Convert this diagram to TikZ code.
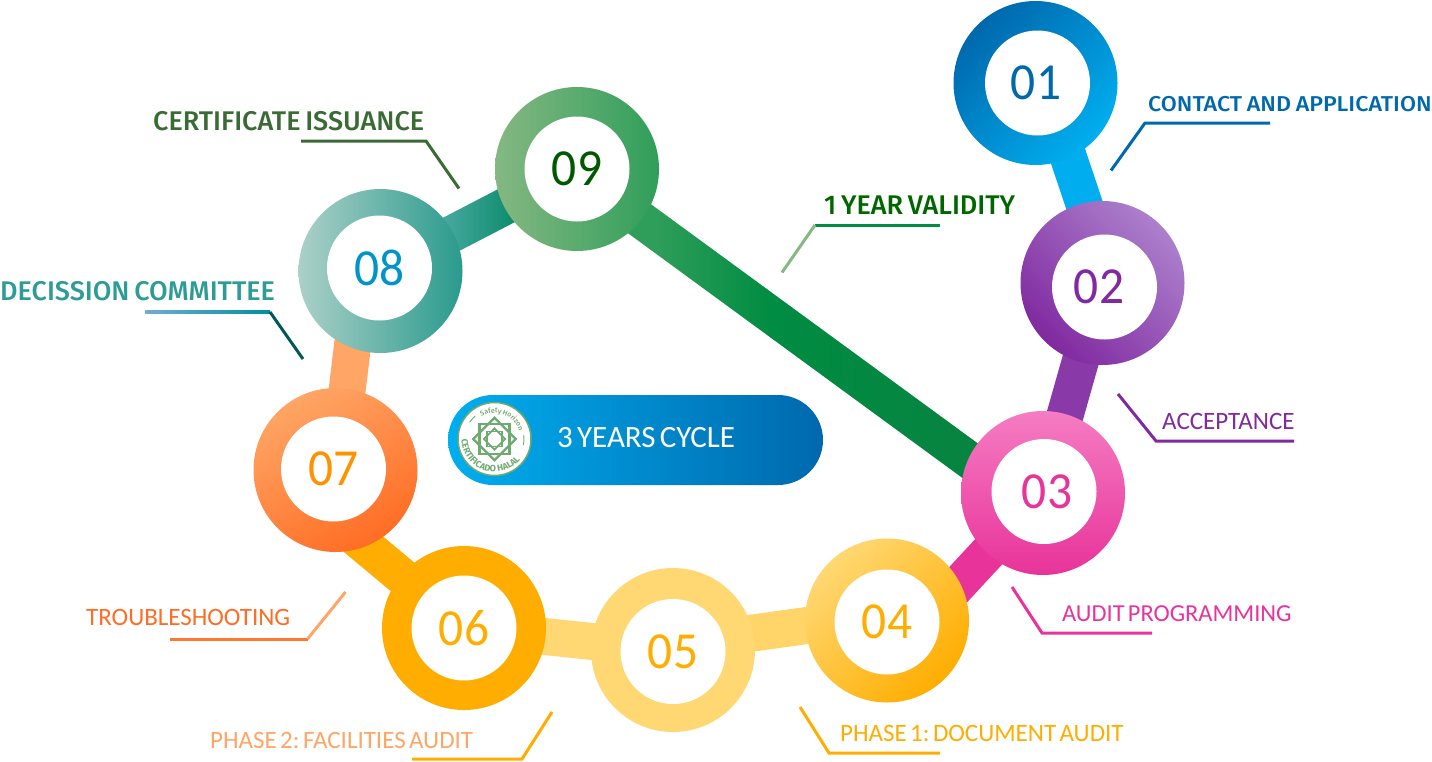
\documentclass[tikz,border=0pt]{standalone}
\usepackage{fontspec}
\setmainfont{Carlito}
\newfontfamily\labfont[WordSpace=0.6]{Carlito}
\newfontfamily\numfont[FakeStretch=0.95]{Carlito}
\newfontfamily\headfont[WordSpace=0.7]{Fira Sans Medium}
\newfontfamily\widefont[FakeStretch=1.08,WordSpace=0.8]{Fira Sans Medium}
\newfontfamily\sealfont{Fira Sans Bold}
\usetikzlibrary{calc}
\usetikzlibrary{backgrounds}
\usetikzlibrary{shapes.misc}
\usetikzlibrary{decorations.text}

\definecolor{blueA}{HTML}{0068AD}
\definecolor{blueB}{HTML}{00AEEF}
\definecolor{purpA}{HTML}{8029A0}
\definecolor{purpB}{HTML}{AC80CC}
\definecolor{pinkA}{HTML}{F57CC2}
\definecolor{pinkB}{HTML}{E8339A}
\definecolor{goldA}{HTML}{FFD873}
\definecolor{goldB}{HTML}{FFAD00}
\definecolor{orngA}{HTML}{FFA565}
\definecolor{orngB}{HTML}{FF6D24}
\definecolor{tealA}{HTML}{ABD0C8}
\definecolor{tealB}{HTML}{2A9A8D}
\definecolor{tealC}{HTML}{2E9C96}
\definecolor{leafA}{HTML}{85B882}
\definecolor{leafB}{HTML}{2F9E5A}
\definecolor{leafC}{HTML}{008C42}
\definecolor{leafD}{HTML}{0A803F}
\definecolor{forest}{HTML}{3A6B35}
\definecolor{halal}{HTML}{6FAA70}

\pgfdeclarehorizontalshading{longbar}{100bp}{color(0bp)=(leafB); color(34bp)=(leafB); color(46bp)=(leafC); color(75bp)=(leafD); color(100bp)=(leafD)}
\pgfdeclarehorizontalshading{shortbar}{100bp}{color(0bp)=(tealC); color(40bp)=(tealC!85!white); color(62bp)=(leafC!50!teal); color(100bp)=(leafC!50!teal)}

% bar between two points, with a shading
\newcommand{\gradlink}[3]{
  \shade[shading=#3]
    ($(#1)!18.5pt!90:(#2)$) -- ($(#1)!18.5pt!-90:(#2)$) -- ($(#2)!18.5pt!90:(#1)$) -- ($(#2)!18.5pt!-90:(#1)$) -- cycle;
}

\begin{document}
\frenchspacing
\begin{tikzpicture}[x=1pt,y=-1pt,
	ring/.style={circle,minimum size=164pt,inner sep=0pt},
	hole/.style={circle,fill=white,minimum size=105pt,inner sep=0pt,font=\numfont\fontsize{52}{52}\selectfont},
	link/.style={line width=37pt},
	leader/.style={line width=3pt},
	lab/.style={anchor=base west,inner sep=0pt,font=\labfont\fontsize{25}{25}\selectfont},
	head/.style={anchor=base west,inner sep=0pt,font=\headfont\fontsize{27}{27}\selectfont},
	star/.style={draw=halal,line width=2.4pt,line join=miter}]
	\useasboundingbox (0,0) rectangle (1432,761);

	% rings
	\node[ring,top color=blueA,bottom color=blueB,shading angle=45] (n01) at (1035.5,83) {};
	\node[ring,top color=purpB,bottom color=purpA,shading angle=-45] (n02) at (1102.5,283) {};
	\node[ring,top color=pinkA,bottom color=pinkB] (n03) at (1043,493) {};
	\node[ring,top color=goldA,bottom color=goldB,shading angle=45] (n04) at (887,620.5) {};
	\node[ring,fill=goldA] (n05) at (673,650) {};
	\node[ring,fill=goldB] (n06) at (464,628) {};
	\node[ring,top color=orngA,bottom color=orngB,shading angle=30] (n07) at (335.5,470) {};
	\node[ring,left color=tealA,right color=tealB] (n08) at (380.5,271) {};
	\node[ring,left color=leafA,right color=leafB] (n09) at (577,169) {};

	\node[hole,text=blueA] (h01) at (1037.5,83) {\kern-3pt 01};
	\node[hole,text=purpA] (h02) at (1104.5,287) {\kern-11pt 02};
	\node[hole,text=pinkB] (h03) at (1044,491.5) {\kern6pt 03};
	\node[hole,text=goldB] (h04) at (887,622) {04};
	\node[hole,text=goldB] (h05) at (673,651.5) {05};
	\node[hole,text=goldB] (h06) at (464,628) {06};
	\node[hole,text=orange!60!goldB] (h07) at (333.5,469) {07};
	\node[hole,text=blueB!85!black] (h08) at (379.5,268) {08};
	\node[hole,text=green!35!black] (h09) at (577,169) {09};

	% bars
	\begin{pgfonlayer}{background}
	\draw[link,blueB] ($(n01)+(8,0)$) -- ($(n02)+(8,0)$);
	\draw[link,purpA!92!white] (n02.center) -- (n03.center);
	\draw[link,pinkB] (n03.center) -- ($(n04)+(38,0)$);
	\draw[link,goldA!90!goldB] ($(n04)+(0,-6)$) -- ($(n05)+(0,-6)$);
	\draw[link,goldA] (n05.center) -- (n06.center);
	\draw[link,goldB] ($(n07)+(0,51)$) -- (n06.center);
	\draw[link,orngA] ($(n08)+(-19,0)$) -- ($(n07)+(2,0)$);
	\gradlink{n08}{n09}{shortbar}
	\coordinate (b93) at ($(n03)+(0,21)$);
	\coordinate (b39) at ($(n09)+(0,4)$);
	\gradlink{b39}{b93}{longbar}
	\end{pgfonlayer}

	% leaders
	\coordinate (l01) at (1270,123);
	\draw[leader,blueA] (l01) -- ++(-125,0) -- ++(-34,47.5);
	\coordinate (l02) at (1294,441);
	\draw[leader,purpA] (l02) -- ++(-138,0) -- ++(-38,-47);
	\coordinate (l03) at (1152,633);
	\draw[leader,pinkB] (l03) -- ++(-110,0) -- ++(-30,-46);
	\coordinate (l04) at (940,753);
	\draw[leader,goldB] (l04) -- ++(-111,0) -- ++(-29,-46);
	\coordinate (l05) at (412,759);
	\draw[leader,goldB] (l05) -- ++(110,0) -- ++(30,-47);
	\coordinate (l06) at (170,639);
	\coordinate (k06) at (307.5,639);
	\draw[leader,orngB!80!orngA] (l06) -- (k06);
	\draw[leader,orngA] (k06) -- ++(38,-47);
	\coordinate (l07) at (145,312);
	\coordinate (k07) at (270,312);
	\shade[left color=blueA!55!white,right color=teal!70!blueB] ($(l07)+(0,-1.5)$) rectangle ($(k07)+(0,1.5)$);
	\draw[leader,teal!70!black] (k07) -- ++(33,47);
	\coordinate (l08) at (301,141);
	\draw[leader,forest] (l08) -- ++(125,0) -- ++(33,47.5);
	\coordinate (l09) at (940,225);
	\coordinate (k09) at (815,225);
	\draw[leader,leafC] (l09) -- (k09);
	\draw[leader,leafA] (k09) -- ++(-33,47.5);

	% labels
	\node[head,font=\widefont\fontsize{21.5}{21.5}\selectfont,text=blueA] (t01) at (1148,111.7) {CONTACT AND APPLICATION};
	\node[lab,text=purpA] (t02) at (1162,429.3) {ACCEPTANCE};
	\node[lab,font=\labfont\fontsize{24.4}{24.4}\selectfont,text=pinkB] (t03) at (1062,621.7) {AUDIT PROGRAMMING};
	\node[lab,text=goldB] (t04) at (840,741.7) {PHASE 1: DOCUMENT AUDIT};
	\node[lab,text=orngA] (t05) at (210,748) {PHASE 2: FACILITIES AUDIT};
	\node[lab,text=orngB] (t06) at (86,625) {TROUBLESHOOTING};
	\node[head,text=tealC] (t07) at (0,300.7) {DECISSION COMMITTEE};
	\node[head,text=forest] (t08) at (153,130.7) {CERTIFICATE ISSUANCE};
	\node[head,text=green!40!black] (t09) at (824,214) {1 YEAR VALIDITY};

	% centre badge
	\node[rounded rectangle,minimum width=375pt,minimum height=90pt,inner sep=0pt,left color=blueB,right color=blueA] (cycle) at (635.5,440) {};
	\node[anchor=base west,inner sep=0pt,text=white,font=\labfont\fontsize{31}{31}\selectfont] (cycletext) at (557,447) {3 YEARS CYCLE};
	\node[circle,fill=white,draw=halal,line width=1.5pt,minimum size=73pt,inner sep=0pt] (logo) at (494.5,439) {};
	\foreach \a in {0,45}
		\draw[star,shift={(logo)},rotate=\a] (-15,-15) rectangle (15,15);
	\foreach \a in {0,45}
		\draw[star,line width=1.8pt,shift={(logo)},rotate=\a] (-7.5,-7.5) rectangle (7.5,7.5);
	\path[decorate,decoration={text along path,text align=center,text={|\headfont\fontsize{7}{7}\selectfont\color{halal}|Safety Horizon}}]
		($(logo)+(201:26)$) arc[start angle=201,end angle=381,radius=26];
	\path[decorate,decoration={text along path,text align=center,text={|\sealfont\fontsize{9}{9}\selectfont\color{halal}|CERTIFICADO HALAL}}]
		($(logo)+(199:33)$) arc[start angle=199,end angle=19,radius=33];
	\draw[halal,line width=.9pt] ($(logo)+(214:30)$) arc[start angle=214,end angle=230,radius=30];
	\draw[halal,line width=.9pt] ($(logo)+(-8:29.5)$) arc[start angle=-8,end angle=12,radius=29.5];
\end{tikzpicture}
\end{document}
